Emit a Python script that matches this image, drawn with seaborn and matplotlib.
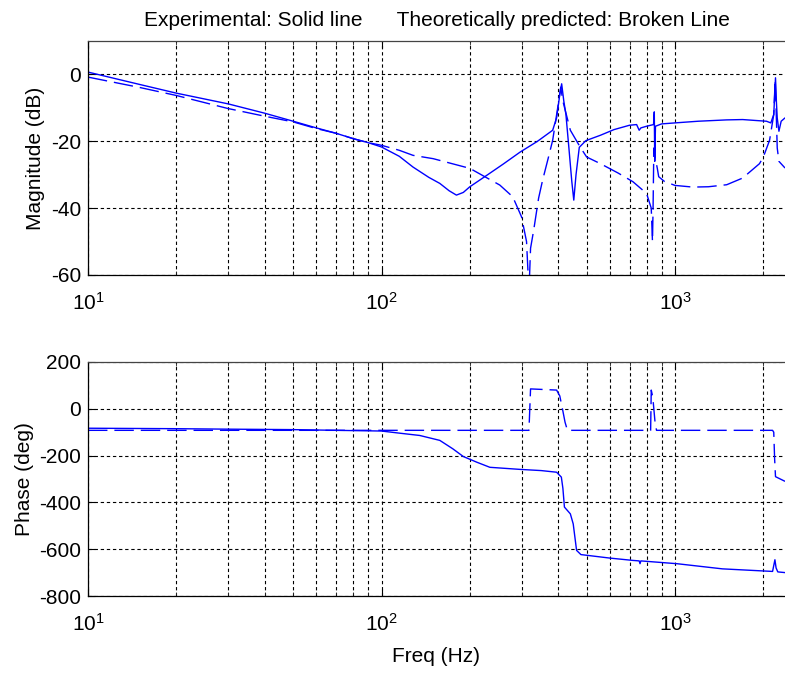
import matplotlib
matplotlib.use("Agg")
import matplotlib.pyplot as plt
import numpy as np
import pandas as pd
import seaborn as sns
from matplotlib.ticker import LogLocator, LogFormatterSciNotation, NullFormatter, FixedLocator

# magnitude, experimental (solid)
mag_exp_f = [10, 15, 20, 30, 40, 50, 60, 70, 80, 90, 100, 115, 128, 145, 158, 170, 180,
             190, 200, 230, 260, 297, 340, 383, 395, 405, 411, 418, 425, 435, 445, 452,
             460, 472, 497, 557, 620, 700, 740, 755, 765, 800, 845, 850, 853, 858, 900,
             1000, 1200, 1500, 1700, 1900, 2050, 2120, 2170, 2200, 2215, 2230, 2260, 2300, 2371]
mag_exp = [0.7, -3.0, -5.6, -8.8, -11.6, -14.0, -16.0, -17.6, -19.2, -20.4, -21.7, -24.5,
           -27.7, -30.8, -32.6, -34.8, -36.1, -35.3, -33.6, -30.0, -26.8, -23.2, -20.0,
           -16.7, -13.0, -6.0, -2.8, -8.0, -12.0, -22.0, -32.0, -37.6, -30.0, -21.8, -19.8,
           -18.2, -16.5, -15.2, -15.0, -16.7, -16.0, -15.5, -15.0, -11.2, -26.0, -15.5,
           -14.8, -14.5, -14.0, -13.6, -13.5, -13.8, -14.0, -14.5, -12.0, -1.0, -8.0,
           -13.0, -17.0, -14.0, -13.0]

# magnitude, theoretical (broken)
mag_th_f = [10, 15, 20, 30, 40, 50, 60, 70, 80, 90, 100, 115, 128, 150, 200, 253, 280,
            300, 312, 318, 322, 330, 343, 354, 370, 383, 400, 408, 415, 440, 475, 500,
            557, 640, 719, 800, 830, 838, 842, 847, 855, 870, 880, 920, 1000, 1150, 1300,
            1500, 1700, 1940, 2000, 2100, 2170, 2195, 2210, 2230, 2260, 2371]
mag_th = [-0.8, -3.9, -6.3, -10.2, -12.5, -14.2, -16.2, -17.6, -19.2, -20.4, -21.2, -22.7,
          -24.2, -25.2, -28.1, -33.1, -36.6, -42.6, -50.0, -65.0, -52.0, -46.6, -37.0,
          -31.6, -25.0, -19.7, -9.0, -3.8, -8.0, -16.7, -21.7, -24.7, -26.7, -29.5, -32.1,
          -35.6, -40.0, -50.0, -40.0, -22.0, -24.7, -28.0, -30.6, -32.0, -33.2, -33.7,
          -33.6, -33.0, -31.0, -26.7, -24.7, -19.7, -12.0, -1.5, -10.0, -22.0, -26.0, -28.0]

# phase, experimental (solid)
ph_exp_f = [10, 20, 30, 50, 70, 100, 115, 135, 158, 175, 190, 211, 234, 297, 350, 395,
            410, 415, 420, 440, 450, 462, 478, 600, 720, 755, 760, 765, 1016, 1450, 2000,
            2150, 2190, 2210, 2240, 2371]
ph_exp = [-83, -85, -87, -89, -92, -95, -104, -114, -135, -171, -204, -228, -250, -259,
          -264, -271, -292, -340, -420, -449, -492, -605, -623, -638, -648, -650, -662,
          -650, -662, -684, -693, -695, -645, -680, -697, -700]

# phase, theoretical (broken)
ph_th_f = [10, 100, 318, 322, 395, 405, 415, 422, 430, 826, 830, 840, 855, 865, 2150,
           2170, 2185, 2200, 2371]
ph_th = [-92, -92, -92, 85, 80, 55, -10, -57, -92, -92, 80, 50, -57, -92, -92, -100,
         -214, -290, -310]

title_text = "Experimental: Solid line      Theoretically predicted: Broken Line"
mag_ticks = [-60, -40, -20, 0]
ph_ticks = [-800, -600, -400, -200, 0, 200]

sns.set_style("ticks")
plt.rcParams['font.family'] = ['Liberation Sans', 'DejaVu Sans']
plt.rcParams['mathtext.fontset'] = 'custom'
plt.rcParams['mathtext.rm'] = 'Liberation Sans'
plt.rcParams['mathtext.it'] = 'Liberation Sans:italic'
plt.rcParams['axes.edgecolor'] = 'black'
plt.rcParams['axes.linewidth'] = 0.9
plt.rcParams['axes.unicode_minus'] = False
plt.rcParams['text.color'] = 'black'
plt.rcParams['axes.labelcolor'] = 'black'

FS = 15
BLUE = '#0000FF'
DASH = (0, (14, 5))

fig = plt.figure(figsize=(7.85, 6.73), dpi=100)
W, H = 785, 673
x0, x1 = 88, 785
ax1 = fig.add_axes([x0 / W, 1 - 275 / H, (x1 - x0) / W, (275 - 41) / H])
ax2 = fig.add_axes([x0 / W, 1 - 596 / H, (x1 - x0) / W, (596 - 362) / H])

xmax = 10 ** (1 + (x1 - x0) / 293.5)

sns.lineplot(x=mag_exp_f, y=mag_exp, ax=ax1, color=BLUE, lw=1.0, sort=False, estimator=None)
sns.lineplot(x=mag_th_f, y=mag_th, ax=ax1, color=BLUE, lw=1.0, sort=False, estimator=None,
             linestyle=DASH)
sns.lineplot(x=ph_exp_f, y=ph_exp, ax=ax2, color=BLUE, lw=1.0, sort=False, estimator=None)
sns.lineplot(x=ph_th_f, y=ph_th, ax=ax2, color=BLUE, lw=1.0, sort=False, estimator=None,
             linestyle=DASH)

for ax, ylim, yt in [(ax1, (-60, 10), mag_ticks), (ax2, (-800, 200), ph_ticks)]:
    ax.set_xscale('log')
    ax.set_xlim(10, xmax)
    ax.set_ylim(*ylim)
    ax.yaxis.set_major_locator(FixedLocator(yt))
    ax.xaxis.set_major_locator(LogLocator(base=10, numticks=10))
    ax.xaxis.set_minor_locator(LogLocator(base=10, subs=np.arange(2, 10), numticks=20))
    ax.xaxis.set_major_formatter(LogFormatterSciNotation())
    ax.xaxis.set_minor_formatter(NullFormatter())
    ax.set_axisbelow(True)
    ax.grid(True, which='major', axis='both', color='black', lw=0.8, linestyle=(0, (3, 2.5)))
    ax.grid(True, which='minor', axis='x', color='black', lw=0.8, linestyle=(0, (3, 2.5)))
    ax.tick_params(which='major', direction='in', length=5, width=0.8, top=True,
                   labelsize=FS, colors='black')
    ax.tick_params(which='minor', direction='in', length=3, width=0.6, top=True)
    ax.tick_params(axis='x', which='major', pad=12)
    ax.tick_params(axis='y', which='major', pad=5)
    ax.spines['right'].set_visible(False)
    ax.spines['top'].set_color('#444444')
    ax.set_xlabel('')

ax1.set_ylabel("Magnitude (dB)", fontsize=FS, labelpad=4)
ax2.set_ylabel("Phase (deg)", fontsize=FS, labelpad=4)
ax2.set_xlabel("Freq (Hz)", fontsize=FS, labelpad=9)
ax1.set_title(title_text, fontsize=FS, pad=11)

fig.savefig("out.png", dpi=100)
